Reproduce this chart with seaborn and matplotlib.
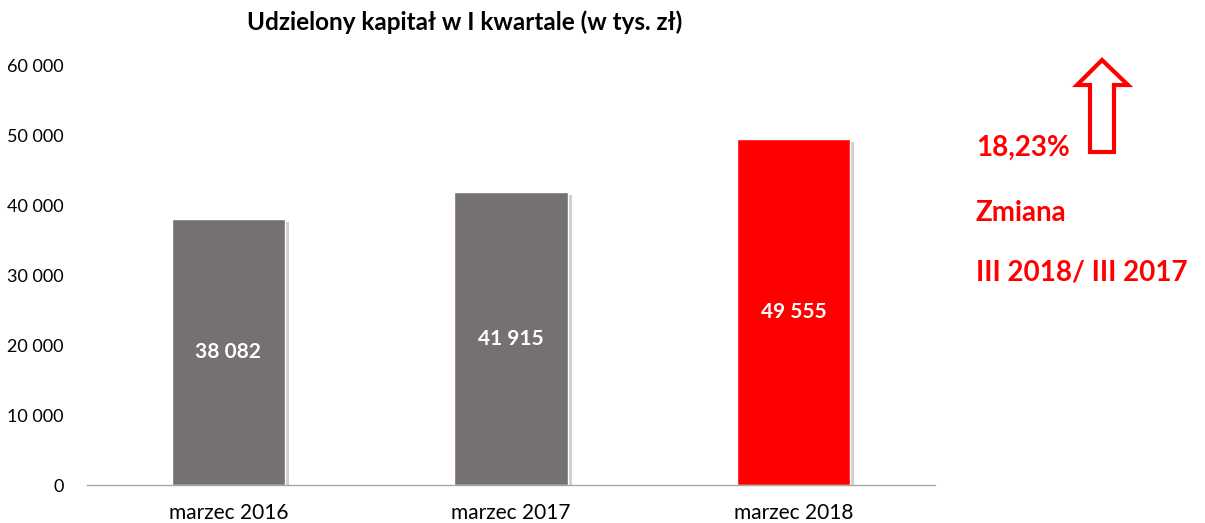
import matplotlib
matplotlib.use("Agg")
import matplotlib.pyplot as plt
import matplotlib.patheffects as pe
from matplotlib.ticker import FuncFormatter, FixedLocator
from matplotlib.patches import Polygon
import seaborn as sns
import pandas as pd

categories = ["marzec 2016", "marzec 2017", "marzec 2018"]
values = [38082, 41915, 49555]
bar_colors = ["#767171", "#767171", "#FF0000"]
title = "Udzielony kapitał w I kwartale (w tys. zł)"
side_texts = ["18,23%", "Zmiana", "III 2018/ III 2017"]

sns.set_theme(style="white")
plt.rcParams["font.family"] = ["Lato", "DejaVu Sans"]

df = pd.DataFrame({"cat": categories, "val": values})

fig = plt.figure(figsize=(12.05, 5.23), dpi=100)
ax = fig.add_axes([87/1205, 1-485/523, (935-87)/1205, (485-66)/523])

sns.barplot(data=df, x="cat", y="val", hue="cat", palette=bar_colors,
            width=0.4, legend=False, ax=ax, saturation=1)

for p in ax.patches:
    p.set_path_effects([pe.SimplePatchShadow(offset=(3, -2), shadow_rgbFace="#888888", alpha=0.4),
                        pe.Normal()])

for i, v in enumerate(values):
    ax.text(i, v/2, f"{v:,}".replace(",", " "), ha="center", va="center",
            color="white", fontsize=15, fontweight="bold")

ax.set_ylim(0, 60000)
ax.set_xlim(-0.5, 2.5)
ax.set_yticks(range(0, 60001, 10000))
ax.yaxis.set_major_formatter(FuncFormatter(lambda v, _: f"{int(v):,}".replace(",", " ")))
ax.tick_params(axis="y", length=0, labelsize=13, pad=17, colors="#000000")
ax.tick_params(axis="x", which="major", length=0, labelsize=15, pad=13, colors="#000000")
ax.xaxis.set_minor_locator(FixedLocator([-0.5, 0.5, 1.5, 2.5]))
ax.tick_params(axis="x", which="minor", length=7, width=1, color="#A6A6A6", direction="out")
ax.set_xlabel("")
ax.set_ylabel("")
for s in ["top", "right", "left"]:
    ax.spines[s].set_visible(False)
ax.spines["bottom"].set_color("#A6A6A6")
ax.spines["bottom"].set_linewidth(1)

fig.text(465/1205, 1-22/523, title, ha="center", va="center", fontsize=17.5, fontweight="bold", color="#000000")

ys = [148, 213, 272]
for t, y in zip(side_texts, ys):
    fig.text(976/1205, 1-y/523, t, ha="left", va="center", fontsize=20, fontweight="bold", color="#FF0000")

# hollow up arrow
W, H = 1205, 523
pts_px = [(1102, 60), (1128, 85), (1114, 85), (1114, 152), (1090, 152), (1090, 85), (1077, 85)]
pts = [(x/W, 1-y/H) for x, y in pts_px]
fig.patches.append(Polygon(pts, closed=True, fill=False, edgecolor="#FF0000", linewidth=3,
                           transform=fig.transFigure, joinstyle="miter"))

fig.savefig("out.png", dpi=100)
